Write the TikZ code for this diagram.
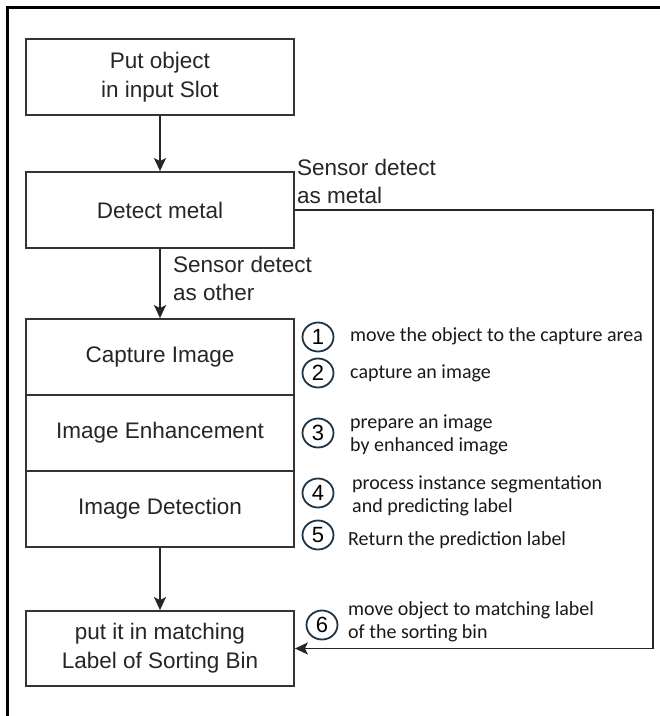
\documentclass[tikz,border=0pt]{standalone}
\usepackage{fontspec}
\setmainfont{Liberation Sans}
\newfontfamily\notefont{Carlito}
\usetikzlibrary{arrows.meta,shapes.geometric}

\definecolor{ringcol}{HTML}{1E3547}

\tikzset{
  stepbox/.style={draw=black!80, line width=1.8pt, fill=white, minimum width=268pt,
    minimum height=76pt, align=center, inner sep=0pt, text=black!85,
    font=\fontsize{22.5}{29}\selectfont},
  flow/.style={draw=black!85, line width=1.8pt,
    -{Stealth[length=13pt,width=12pt,inset=3pt]}},
  cond/.style={anchor=west, align=left, inner sep=0pt, text=black!85,
    font=\fontsize{22.5}{28}\selectfont},
  numring/.style={ellipse, draw=ringcol, line width=1.8pt,
    minimum width=31pt, minimum height=29pt, inner sep=0pt, text=black,
    font=\fontsize{22}{22}\selectfont},
  note/.style={anchor=west, align=left, inner sep=0pt, text=black!90,
    font=\notefont\fontsize{20}{23}\selectfont},
}

\begin{document}
\begin{tikzpicture}[x=1pt, y=-1pt]
  \useasboundingbox (0,0) rectangle (660,716);
  \fill[white] (0,0) rectangle (660,716);

  % outer frame
  \draw[line width=3pt, black] (7,716) -- (7,7) -- (660,7);

  % main steps
  \node[stepbox] (put) at (160,77) {Put object\\in input Slot};
  \node[stepbox] (metal) at (160,210) {Detect metal};
  \node[stepbox] (cap) at (160,357) {Capture Image};
  \node[stepbox] (enh) at (160,433) {Image Enhancement};
  \node[stepbox] (det) at (160,509) {Image Detection};
  \node[stepbox, minimum height=75pt] (bin) at (160,648.5) {put it in matching\\Label of Sorting Bin};

  % connectors
  \draw[flow] (put.south) -- (metal.north);
  \draw[flow] (metal.south) -- (cap.north);
  \draw[flow] (det.south) -- (bin.north);
  \coordinate (turn) at (653,210);
  \draw[flow] (metal.east) -- (turn) |- (bin.east);

  % branch labels
  \node[cond] (lmetal) at (297,181) {Sensor detect\\as metal};
  \node[cond] (lother) at (173,278) {Sensor detect\\as other};

  % numbered notes
  \node[numring] (c1) at (318,337) {1};
  \node[note] (t1) at (350,336) {move the object to the capture area};
  \node[numring] (c2) at (318,373) {2};
  \node[note] (t2) at (350,373) {capture an image};
  \node[numring] (c3) at (318,433) {3};
  \node[note] (t3) at (350,434.5) {prepare an image\\by enhanced image};
  \node[numring] (c4) at (318,493) {4};
  \node[note] (t4) at (352,495.5) {process instance segmentation\\and predicting label};
  \node[numring] (c5) at (318,535) {5};
  \node[note] (t5) at (348,540) {Return the prediction label};
  \node[numring] (c6) at (322,625) {6};
  \node[note] (t6) at (348,621.5) {move object to matching label\\of the sorting bin};
\end{tikzpicture}
\end{document}
